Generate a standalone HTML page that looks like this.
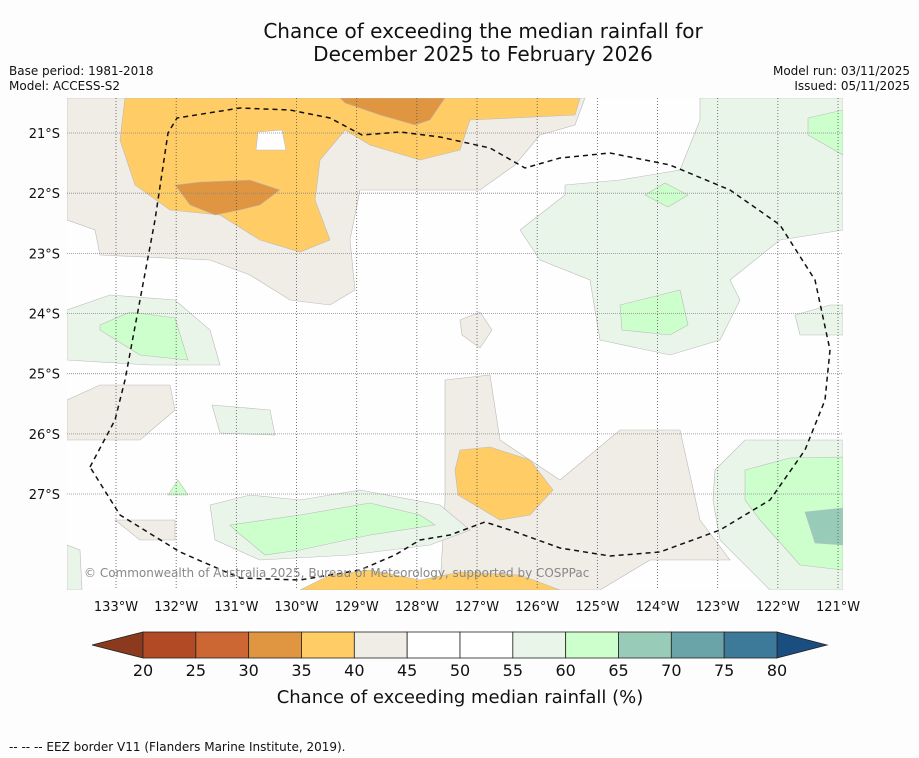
<!DOCTYPE html>
<html><head><meta charset="utf-8">
<style>
body{margin:0;background:#fdfdfd;font-family:"DejaVu Sans",sans-serif;}
svg{display:block}
</style></head>
<body>
<svg id="chart" width="919" height="758" viewBox="0 0 919 758" xmlns="http://www.w3.org/2000/svg" font-family="DejaVu Sans, Liberation Sans, sans-serif">
<rect width="919" height="758" fill="#fdfdfd"/>
<text x="483" y="38" text-anchor="middle" font-size="20" fill="#111">Chance of exceeding the median rainfall for</text>
<text x="483" y="61" text-anchor="middle" font-size="20" fill="#111">December 2025 to February 2026</text>
<text x="9" y="75" font-size="12" fill="#111">Base period: 1981-2018</text>
<text x="9" y="90" font-size="12" fill="#111">Model: ACCESS-S2</text>
<text x="910" y="75" text-anchor="end" font-size="12" fill="#111">Model run: 03/11/2025</text>
<text x="910" y="90" text-anchor="end" font-size="12" fill="#111">Issued: 05/11/2025</text>
<defs><clipPath id="mapclip"><rect x="67" y="98" width="776" height="492"/></clipPath></defs>
<g id="map" clip-path="url(#mapclip)">
<rect x="67" y="98" width="776" height="492" fill="#fefefe"/>
<g stroke="#bbb" stroke-width="0.6">
<polygon fill="#f0ece6" points="67,98 585,98 575,125 540,135 515,165 480,190 400,190 360,190 350,240 355,290 330,305 290,300 250,275 210,260 100,255 95,230 67,220"/>
<polygon fill="#f0ece6" points="445,380 490,375 500,440 560,480 620,430 680,430 700,520 730,560 650,560 600,590 440,590 445,500"/>
<polygon fill="#f0ece6" points="67,400 100,385 170,385 175,410 140,440 67,440"/>
<polygon fill="#f0ece6" points="115,520 175,520 175,540 140,540"/>
<polygon fill="#f0ece6" points="460,320 480,312 492,330 480,348 462,335"/>
<polygon fill="#ffcc66" points="125,98 580,98 575,115 470,120 460,150 420,160 370,145 345,130 320,160 315,200 330,240 300,252 260,240 220,215 170,210 135,185 120,140"/>
<polygon fill="#e09640" points="175,185 200,182 250,180 280,190 260,205 240,210 215,215 190,205"/>
<polygon fill="#e09640" points="340,98 445,98 430,120 415,125 380,115 345,103"/>
<polygon fill="#fefefe" points="258,132 282,130 286,150 256,150"/>
<polygon fill="#ffcc66" points="460,450 490,447 530,460 553,490 530,515 500,520 458,495 455,470"/>
<polygon fill="#ffcc66" points="300,590 330,575 370,570 420,580 460,572 520,575 560,590"/>
<polygon fill="#eaf5ea" points="520,230 565,195 565,185 620,180 680,170 700,120 700,98 843,98 843,230 780,240 730,280 740,300 720,340 670,355 600,340 590,280 540,260"/>
<polygon fill="#eaf5ea" points="795,315 830,305 843,305 843,335 800,335"/>
<polygon fill="#ccffcc" points="645,195 665,183 688,195 668,207"/>
<polygon fill="#ccffcc" points="620,305 680,290 688,325 670,335 622,330"/>
<polygon fill="#ccffcc" points="808,118 843,110 843,155 808,135"/>
<polygon fill="#eaf5ea" points="715,470 745,440 843,440 843,590 770,590 720,540 713,500"/>
<polygon fill="#ccffcc" points="745,470 790,458 843,457 843,570 800,565 760,520 745,500"/>
<polygon fill="#99ccb8" points="805,512 843,508 843,545 815,543"/>
<polygon fill="#eaf5ea" points="67,310 110,295 175,300 210,330 220,365 150,365 67,360"/>
<polygon fill="#ccffcc" points="100,325 130,312 175,318 188,360 140,355 100,330"/>
<polygon fill="#eaf5ea" points="212,405 270,410 275,435 220,433"/>
<polygon fill="#eaf5ea" points="210,505 250,495 300,500 360,490 440,505 470,530 430,545 350,555 260,560 215,540"/>
<polygon fill="#ccffcc" points="230,525 300,515 370,503 420,515 435,525 370,535 300,550 265,555 235,530"/>
<polygon fill="#eaf5ea" points="67,545 80,550 82,590 67,590"/>
<polygon fill="#ccffcc" points="168,495 178,480 188,495"/>
</g>
<g id="grid"></g>
<polyline fill="none" stroke="#111" stroke-width="1.5" stroke-dasharray="5,4" points="90,467 115,420 125,380 140,300 155,220 168,133 177,118 240,108 290,110 330,118 362,135 400,132 440,137 490,148 525,168 560,158 610,153 670,165 730,190 780,225 815,280 830,350 825,400 805,450 770,500 720,530 660,552 610,556 560,548 510,530 485,522 450,535 420,540 395,555 360,570 300,580 240,578 180,552 120,515 90,467"/>
<text x="84" y="577" font-size="12" fill="#888">© Commonwealth of Australia 2025, Bureau of Meteorology, supported by COSPPac</text>
</g>
<g id="axes"></g>
<g id="colorbar"></g>
<text x="460" y="703" text-anchor="middle" font-size="18" fill="#111">Chance of exceeding median rainfall (%)</text>
<text x="9" y="751" font-size="12" fill="#111">--  --  -- EEZ border V11 (Flanders Marine Institute, 2019).</text>
</svg>
<script>
const lonLabels=["133°W","132°W","131°W","130°W","129°W","128°W","127°W","126°W","125°W","124°W","123°W","122°W","121°W"];
const lonValues=[133,132,131,130,129,128,127,126,125,124,123,122,121];
const latLabels=["21°S","22°S","23°S","24°S","25°S","26°S","27°S"];
const latValues=[21,22,23,24,25,26,27];
const cbLevels=[20,25,30,35,40,45,50,55,60,65,70,75,80];
const cbColors=["#b34a26","#cc6633","#e09640","#ffcc66","#f0ece6","#ffffff","#ffffff","#eaf5ea","#ccffcc","#99ccb8","#6aa3a8","#3d7a99"];
const NS="http://www.w3.org/2000/svg";
const xLon=v=>116+(133-v)*60.17;
const yLat=v=>133+(v-21)*60.17;
const cbX=v=>143+(v-20)*(777-143)/60;
function mk(tag,attrs,parent,txt){const e=document.createElementNS(NS,tag);for(const k in attrs)e.setAttribute(k,attrs[k]);if(txt!==undefined)e.textContent=txt;parent.appendChild(e);return e;}
const grid=document.getElementById('grid'),axes=document.getElementById('axes'),cb=document.getElementById('colorbar');
lonValues.forEach((v,i)=>{
  const l=mk('line',{x1:xLon(v),x2:xLon(v),y1:98,y2:590,stroke:'#555','stroke-width':0.8,'stroke-dasharray':'1,2'},grid);
  
  
  const t=mk('text',{x:xLon(v),y:611,'text-anchor':'middle','font-size':13,fill:'#111'},axes,lonLabels[i]);
  
  
});
latValues.forEach((v,i)=>{
  const l=mk('line',{x1:67,x2:843,y1:yLat(v),y2:yLat(v),stroke:'#888','stroke-width':0.8,'stroke-dasharray':'1,1'},grid);
  
  
  const t=mk('text',{x:60,y:yLat(v)+5,'text-anchor':'end','font-size':13,fill:'#111'},axes,latLabels[i]);
  
  
});
const y0=632,y1=658;
const lt=mk('polygon',{points:`92,${(y0+y1)/2} ${cbX(20)},${y0} ${cbX(20)},${y1}`,fill:'#8c3a1e',stroke:'#222','stroke-width':0.8},cb);


const rt=mk('polygon',{points:`827,${(y0+y1)/2} ${cbX(80)},${y0} ${cbX(80)},${y1}`,fill:'#1a4d80',stroke:'#222','stroke-width':0.8},cb);


cbColors.forEach((c,i)=>{
  const r=mk('rect',{x:cbX(cbLevels[i]),y:y0,width:cbX(cbLevels[i+1])-cbX(cbLevels[i]),height:y1-y0,fill:c,stroke:'#222','stroke-width':0.8},cb);
  
  
});
cbLevels.forEach(v=>{
  const t=mk('text',{x:cbX(v),y:676,'text-anchor':'middle','font-size':16,fill:'#111'},cb,String(v));
  
  
});
</script>
</body></html>
